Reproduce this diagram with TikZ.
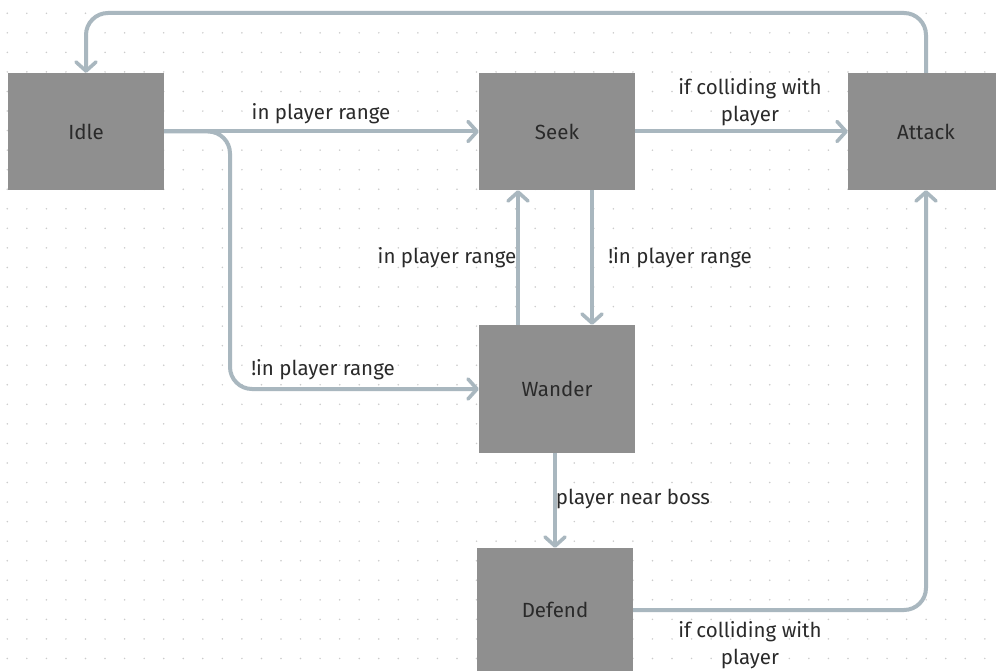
\documentclass[tikz,border=0pt]{standalone}
\usepackage{fontspec}
\setmainfont{Fira Sans}
\usetikzlibrary{arrows.meta}
\definecolor{boxgray}{HTML}{8F8F8F}
\definecolor{linkblue}{HTML}{A9B7BF}
\definecolor{dotgray}{HTML}{CBCBCB}
\definecolor{inkdark}{HTML}{2A2A2A}
\tikzset{
  statebox/.style={rectangle, fill=boxgray, draw=none, minimum width=156pt,
    minimum height=117pt, inner sep=0pt, text=inkdark, font=\fontsize{20.5}{22}\selectfont},
  conn/.style={draw=linkblue, line width=4pt, line join=round,
    -{Straight Barb[length=9pt,width=20pt,line width=3.6pt,round]}},
  lbl/.style={text=inkdark, inner sep=0pt, font=\fontsize{20.5}{27}\selectfont, align=center}
}
\begin{document}
\begin{tikzpicture}[x=1pt, y=-1pt]
  \useasboundingbox (0,0) rectangle (996,671);
  \clip (0,0) rectangle (996,671);
  \fill[white] (0,0) rectangle (996,671);
  % dotted background grid
  \foreach \i in {0,...,51} {
    \foreach \j in {0,...,34} {
      \fill[dotgray] ({7.3+19.55*\i},{13.3+19.55*\j}) circle (0.85pt);
    }
  }
  % states
  \node[statebox] (idle)   at (86,131.5)  {Idle};
  \node[statebox] (seek)   at (557,131.5) {Seek};
  \node[statebox] (attack) at (926,131.5) {Attack};
  \node[statebox, minimum height=128pt] (wander) at (557,389) {Wander};
  \node[statebox, minimum height=124pt] (defend) at (555,610) {Defend};
  % bend helpers
  \coordinate (topline) at (0,13);
  \coordinate (idlebend) at (230,0);
  % transitions
  \draw[conn, rounded corners=22pt] (attack.north) |- (topline -| idle.north) -- (idle.north);
  \draw[conn] (idle.east) -- (seek.west);
  \draw[conn, rounded corners=22pt] (idle.east) -| (idlebend |- wander.west) -- (wander.west);
  \draw[conn] (seek.east) -- (attack.west);
  \draw[conn] ([xshift=-39pt]wander.north) -- ([xshift=-39pt]seek.south);
  \draw[conn] ([xshift=35pt]seek.south) -- ([xshift=35pt]wander.north);
  \draw[conn] (defend.north |- wander.south) -- (defend.north);
  \draw[conn, rounded corners=22pt] (defend.east) -| (attack.south);
  % transition labels
  \node[lbl] (l1) at (321,113.5) {in player range};
  \node[lbl] (l2) at (750,102) {if colliding with\\player};
  \node[lbl] (l3) at (447,257.5) {in player range};
  \node[lbl] (l4) at (680,257.5) {!in player range};
  \node[lbl] (l5) at (323,369.5) {!in player range};
  \node[lbl] (l6) at (633,498.5) {player near boss};
  \node[lbl] (l7) at (750,645.5) {if colliding with\\player};
\end{tikzpicture}
\end{document}
